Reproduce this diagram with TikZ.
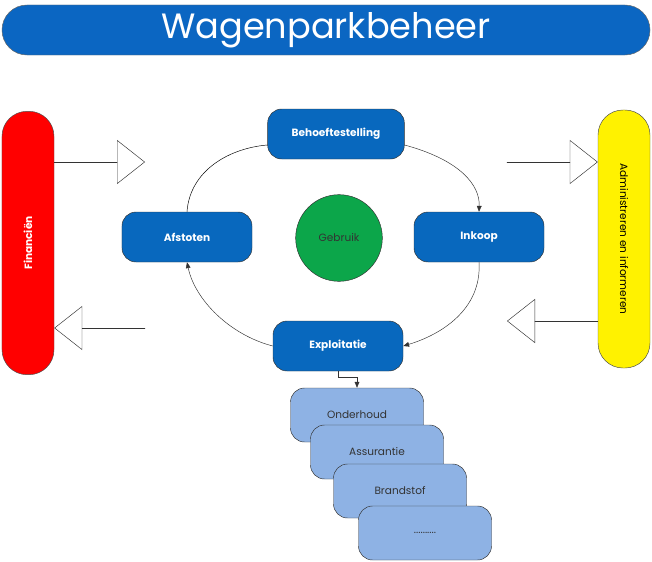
\documentclass[tikz,border=0pt]{standalone}
\usepackage{fontspec}
\setmainfont{Poppins}
\usetikzlibrary{arrows.meta}
\definecolor{titleblue}{RGB}{11,102,194}
\definecolor{stepblue}{RGB}{8,104,190}
\definecolor{subblue}{RGB}{142,178,228}
\definecolor{usegreen}{RGB}{12,166,74}
\begin{document}
\begin{tikzpicture}[x=0.03cm,y=-0.03cm,line cap=round]
  % Styles
  \tikzset{
    stage/.style={draw=black!80,fill=stepblue,rounded corners=12pt,minimum width=3.9cm,minimum height=1.5cm,text=white,font=\bfseries\small},
    sub/.style={draw=black!80,fill=subblue,rounded corners=12pt,minimum width=3.99cm,minimum height=1.62cm,font=\small,text=black!80},
    side/.style={draw=black!70,rounded corners=0.75cm,minimum width=1.56cm},
    flow/.style={-{Triangle[length=5pt,width=4pt]},black!80},
    big/.style={-{Triangle[open,length=0.84cm,width=1.32cm]},black!80}
  }
  \useasboundingbox (0,0) rectangle (652,561);

  % Title
  \node[fill=titleblue,draw=black!60,rounded corners=0.75cm,minimum width=19.44cm,minimum height=1.5cm,text=white,font=\fontsize{30}{30}\selectfont] (title) at (326,30) {Wagenparkbeheer};

  % Side bars
  \node[side,fill=red,minimum height=7.9cm] (fin) at (28,243) {};
  \node[rotate=90,text=white,font=\bfseries\small] at (fin.center) {Financiën};
  \node[side,fill=yellow,minimum height=7.74cm] (adm) at (624,239) {};
  \node[rotate=-90,font=\small] at (adm.center) {Administreren en informeren};

  % Cycle
  \node[stage,minimum width=4.1cm] (behoefte) at (336,134) {Behoeftestelling};
  \node[stage] (afstoten) at (187,237) {Afstoten};
  \node[stage] (inkoop) at (479,237) {Inkoop};
  \node[stage] (exploitatie) at (338,346) {Exploitatie};
  \node[draw=black!80,fill=usegreen,circle,minimum size=2.6cm,font=\small,text=black!80,inner sep=0pt] (gebruik) at (339,238) {Gebruik};

  \draw[flow] ([yshift=-0.33cm]behoefte.east) .. controls (460,160) and (480,185) .. (inkoop.north);
  \draw[flow] (inkoop.south) .. controls (482,310) and (440,335) .. (exploitatie.east);
  \draw[flow] (exploitatie.west) .. controls (230,335) and (195,300) .. (afstoten.south);
  \draw (afstoten.north) .. controls (190,170) and (230,148) .. ([yshift=-0.33cm]behoefte.west);

  % Exploitatie items
  \node[sub] (onderhoud) at (357,415) {Onderhoud};
  \node[sub] (assurantie) at (377,452) {Assurantie};
  \node[sub] (brandstof) at (400,491) {Brandstof};
  \node[sub] (overig) at (425,533) {..........};
  \draw[flow] (exploitatie.south) |- (357,377) -- (onderhoud.north);

  % Flows with the side bars
  \coordinate (finout) at (145,162);
  \coordinate (finin) at (145,328);
  \coordinate (admin) at (507,162);
  \coordinate (admout) at (507,321);
  \draw[big] (fin.east |- finout) -- (finout);
  \draw[big] (finin) -- (fin.east |- finin);
  \draw[big] (admin) -- (adm.west |- admin);
  \draw[big] (adm.west |- admout) -- (admout);
\end{tikzpicture}
\end{document}
